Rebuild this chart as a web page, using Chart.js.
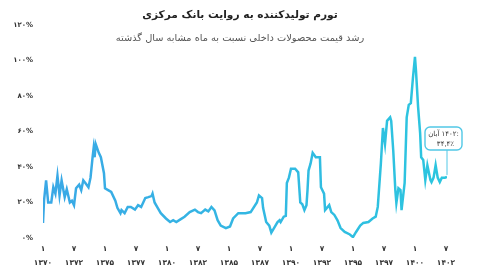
<!DOCTYPE html>
<html lang="fa">
<head>
<meta charset="utf-8">
<script src="https://cdn.jsdelivr.net/npm/chart.js"></script>
<style>
  html, body { margin: 0; padding: 0; background: #fff; }
  #wrap { position: relative; width: 480px; height: 280px; font-family: "DejaVu Sans", sans-serif; }
  #chart { position: absolute; left: 0; top: 0; }
  .ttl { position: absolute; left: 0; width: 480px; text-align: center; direction: rtl; pointer-events: none; }
  #t1 { top: 8px; font-size: 10.6px; font-weight: bold; color: #222; }
  #t2 { top: 32px; font-size: 9.8px; color: #555; }
</style>
</head>
<body>
<div id="wrap">
  <canvas id="chart" width="480" height="280"></canvas>
  <div class="ttl" id="t1">تورم تولیدکننده به روایت بانک مرکزی</div>
  <div class="ttl" id="t2">رشد قیمت محصولات داخلی نسبت به ماه مشابه سال گذشته</div>
</div>
<script>
// ماه از فروردین ۱۳۷۰ (۰ = ۱۳۷۰/۱)
const months = [0, 1, 3, 5, 8, 10, 12, 14, 16, 18, 21, 23, 26, 28, 30, 32, 35, 37, 39, 41,
  44, 46, 48, 49, 50, 51, 54, 56, 59, 60, 63, 66, 70, 72, 75, 76, 79, 82, 85, 89,
  92, 95, 99, 102, 105, 106, 108, 111, 114, 119, 123, 126, 129, 133, 137, 142, 147, 150, 153, 157,
  160, 163, 166, 169, 172, 177, 181, 184, 189, 196, 201, 207, 209, 212, 213, 216, 219, 221, 224, 227,
  229, 230, 233, 235, 236, 238, 240, 244, 247, 249, 251, 253, 255, 256, 257, 259, 261, 264, 268, 269,
  272, 273, 277, 279, 282, 285, 288, 292, 297, 300, 303, 307, 310, 315, 319, 322, 324, 327, 329, 331,
  333, 336, 337, 339, 341, 342, 344, 346, 347, 350, 352, 354, 356, 358, 360, 361, 363, 365, 366, 368,
  370, 372, 375, 376, 378, 380, 382, 384, 386, 389, 391];
// تورم تولیدکننده (درصد)
const ppi = [8.5, 21, 32.5, 20, 20, 28.6, 25, 35, 24, 32.5, 23, 27.5, 20, 21, 18.5, 28, 30, 27, 32.5, 31,
  28.6, 34, 45.5, 50.6, 45.5, 53, 48, 45.5, 36.5, 28, 27, 26, 21, 17, 14, 15.7, 14, 17.5, 17.5, 16,
  18.5, 17.5, 22.5, 23, 23.6, 25, 20, 17, 14, 11, 9, 10, 9, 10.5, 12, 14.6, 16, 14.6, 14, 16,
  15, 17.5, 15.5, 10, 7, 5.6, 6.5, 11, 14, 14, 14.6, 20, 24, 22.5, 17, 9, 7, 3, 6, 9,
  10, 9, 12, 12.5, 31, 34, 39, 39, 37, 20, 19, 15.7, 18.5, 27, 38, 42, 48, 45.5, 45.5, 28.6,
  25, 15.7, 18.5, 14.6, 13, 10, 5.6, 3.4, 2, 0.5, 3.4, 7, 8.5, 9, 11, 12, 17.5, 42, 62, 53,
  66, 68, 66, 49, 27, 19.7, 28, 27, 15.7, 31, 68, 75, 76, 90, 102, 94, 74, 59, 45.5, 44,
  32.6, 41, 32.6, 31.5, 34, 41, 34, 31.5, 34, 34, 34.4];

const tickPos = [0, 30, 60, 90, 120, 150, 180, 210, 240, 270, 300, 330, 360, 390];
const tickMonths = ['۱', '۷', '۱', '۷', '۱', '۷', '۱', '۷', '۱', '۷', '۱', '۷', '۱', '۷'];
const tickYears = ['۱۳۷۰', '۱۳۷۲', '۱۳۷۵', '۱۳۷۷', '۱۳۸۰', '۱۳۸۲', '۱۳۸۵', '۱۳۸۷', '۱۳۹۰', '۱۳۹۲', '۱۳۹۵', '۱۳۹۷', '۱۴۰۰', '۱۴۰۲'];
const yTicks = [0, 20, 40, 60, 80, 100, 120];
const lastMonth = 'آبان';
const lastYear = '۱۴۰۲';

const faDigits = s => String(s).replace(/\d/g, d => '۰۱۲۳۴۵۶۷۸۹'[d]);

// annotation du dernier point
const lastNote = {
  id: 'lastNote',
  afterDatasetsDraw(chart) {
    const meta = chart.getDatasetMeta(0);
    const pt = meta.data[meta.data.length - 1];
    if (!pt) return;
    const ctx = chart.ctx;
    const bx = pt.x - 22, by = pt.y - 50, bw = 37, bh = 23;
    ctx.save();
    ctx.strokeStyle = '#52c8e6';
    ctx.lineWidth = 1;
    ctx.beginPath();
    ctx.moveTo(pt.x, by + bh);
    ctx.lineTo(pt.x, pt.y - 2);
    ctx.stroke();
    ctx.fillStyle = '#fff';
    ctx.lineWidth = 1.4;
    ctx.beginPath();
    ctx.roundRect(bx, by, bw, bh, 5);
    ctx.fill();
    ctx.stroke();
    ctx.fillStyle = '#333';
    ctx.font = '7px "DejaVu Sans"';
    ctx.textBaseline = 'middle';
    ctx.textAlign = 'left';
    // mois à gauche, année à droite (deux morceaux pour garder l'ordre)
    const part2 = lastYear + ':';
    const w1 = ctx.measureText(lastMonth).width, w2 = ctx.measureText(part2).width, gap = 2;
    let x0 = bx + (bw - w1 - w2 - gap) / 2;
    ctx.fillText(lastMonth, x0, by + 7);
    ctx.fillText(part2, x0 + w1 + gap, by + 7);
    const v = ppi[ppi.length - 1];
    ctx.textAlign = 'center';
    ctx.fillText(faDigits(v.toFixed(1)).replace('.', ',') + '٪', bx + bw / 2 + 2, by + 17);
    ctx.restore();
  }
};

const ctx = document.getElementById('chart').getContext('2d');
new Chart(ctx, {
  type: 'line',
  data: {
    datasets: [{
      data: months.map((m, i) => ({ x: m, y: ppi[i] })),
      borderColor: function(c) {
        const a = c.chart.chartArea;
        if (!a) return '#3ab0e4';
        const g = c.chart.ctx.createLinearGradient(a.left, 0, a.right, 0);
        g.addColorStop(0, '#3aa8e6');
        g.addColorStop(1, '#2cc6df');
        return g;
      },
      borderWidth: 2.5,
      pointRadius: 0,
      tension: 0,
      fill: false
    }]
  },
  options: {
    responsive: false,
    animation: false,
    layout: { padding: { top: 25, right: 33, left: 0, bottom: 0 } },
    plugins: { legend: { display: false }, tooltip: { enabled: false }, title: { display: false } },
    scales: {
      x: {
        type: 'linear',
        min: 0,
        max: 391,
        grid: { display: false, drawTicks: false },
        border: { display: false },
        afterBuildTicks: s => { s.ticks = tickPos.map(v => ({ value: v })); },
        afterFit: s => { s.height = 42; },
        ticks: {
          autoSkip: false,
          maxRotation: 0,
          padding: 4,
          color: '#333',
          font: { family: 'DejaVu Sans', size: 7.5, weight: 'bold', lineHeight: 1.85 },
          callback: (v) => {
            const i = tickPos.indexOf(v);
            return i < 0 ? '' : [tickMonths[i], tickYears[i]];
          }
        }
      },
      y: {
        min: 0,
        max: 120,
        grid: { display: false, drawTicks: false },
        border: { display: false },
        afterBuildTicks: s => { s.ticks = yTicks.map(v => ({ value: v })); },
        afterFit: s => { s.width = 43; },
        ticks: {
          padding: 10,
          color: '#333',
          font: { family: 'DejaVu Sans', size: 7, weight: 'bold' },
          callback: v => faDigits(v) + '%'
        }
      }
    }
  },
  plugins: [lastNote]
});
</script>
</body>
</html>
